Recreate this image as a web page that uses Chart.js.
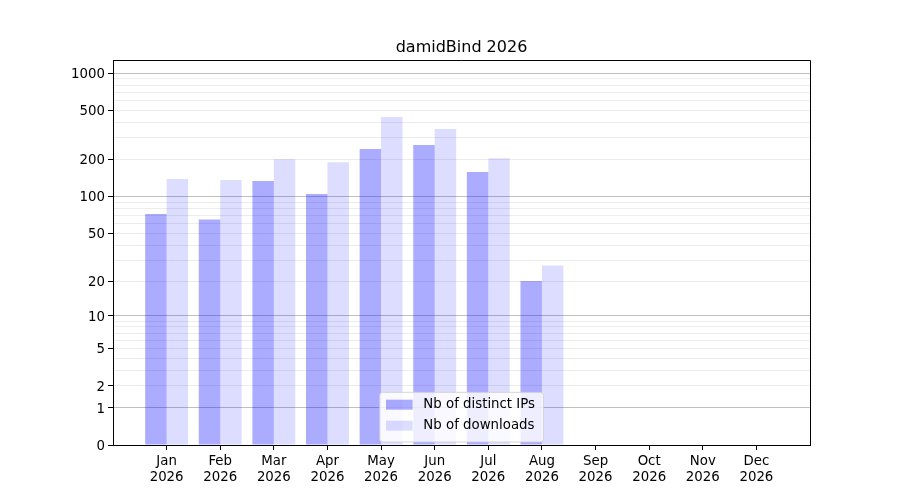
<!DOCTYPE html>
<html>
<head>
<meta charset="utf-8">
<script src="https://cdn.jsdelivr.net/npm/chart.js@4/dist/chart.umd.min.js"></script>
<style>
  body { margin: 0; background: #fff; }
</style>
</head>
<body>
<canvas id="myChart" width="900" height="500"></canvas>
<script>
// chart data
var chartTitle = "damidBind 2026";
var months = ["Jan", "Feb", "Mar", "Apr", "May", "Jun", "Jul", "Aug", "Sep", "Oct", "Nov", "Dec"];
var year = "2026";
var distinctIPs = [72, 65, 134, 105, 243, 262, 158, 20, 0, 0, 0, 0];
var downloads = [139, 136, 201, 190, 441, 353, 205, 27, 0, 0, 0, 0];
var seriesNames = ["Nb of distinct IPs", "Nb of downloads"];

// y axis: labelled ticks, major grid, minor grid
var yTickLabels = [0, 1, 2, 5, 10, 20, 50, 100, 200, 500, 1000];
var yMajorGrid = [1, 10, 100, 1000];
var yMinorGrid = [2, 3, 4, 5, 6, 7, 8, 9, 20, 30, 40, 50, 60, 70, 80, 90,
                  200, 300, 400, 500, 600, 700, 800, 900];
var yMax = 1274;

var FONT = "'DejaVu Sans', sans-serif";

// log10(1 + x) scale, like the matplotlib function scale of the original
class Log1pScale extends Chart.LinearScale {
    buildTicks() {
        var all = [0].concat(yMajorGrid, yMinorGrid).sort(function(a, b) { return a - b; });
        return all.map(function(v) { return { value: v }; });
    }
    getPixelForValue(value) {
        var a = Math.log10(1 + this.min), b = Math.log10(1 + this.max);
        return this.getPixelForDecimal((Math.log10(1 + value) - a) / (b - a));
    }
    getValueForPixel(pixel) {
        var a = Math.log10(1 + this.min), b = Math.log10(1 + this.max);
        var d = this.getDecimalForPixel(pixel);
        return Math.pow(10, a + d * (b - a)) - 1;
    }
}
Log1pScale.id = "log1p";
Log1pScale.defaults = Chart.LinearScale.defaults;
Chart.register(Log1pScale);

// title, frame and legend drawn the matplotlib way
var framePlugin = {
    id: "frame",
    afterDraw: function(chart) {
        var ctx = chart.ctx, area = chart.chartArea;
        ctx.save();

        // title
        ctx.fillStyle = "#000";
        ctx.font = "16px " + FONT;
        ctx.textAlign = "center";
        ctx.textBaseline = "alphabetic";
        ctx.fillText(chartTitle, (area.left + area.right) / 2, area.top - 8);

        // top and right spines
        ctx.strokeStyle = "#000";
        ctx.lineWidth = 1;
        ctx.beginPath();
        ctx.moveTo(area.left, area.top + 0.5);
        ctx.lineTo(area.right + 0.5, area.top + 0.5);
        ctx.lineTo(area.right + 0.5, area.bottom);
        ctx.stroke();

        // legend, lower center
        var fs = 13.33;
        ctx.font = fs + "px " + FONT;
        var textW = 0;
        seriesNames.forEach(function(n) { textW = Math.max(textW, ctx.measureText(n).width); });
        var pad = 0.4 * fs, handle = 2 * fs, gap = 0.8 * fs, rowH = 21;
        var w = pad * 2 + handle + gap + textW + 4;
        var h = pad * 2 + rowH * seriesNames.length - 3;
        var x0 = (area.left + area.right) / 2 - w / 2;
        var y0 = area.bottom - 3 - h;
        ctx.beginPath();
        if (ctx.roundRect) ctx.roundRect(x0, y0, w, h, 3); else ctx.rect(x0, y0, w, h);
        ctx.fillStyle = "rgba(255,255,255,0.8)";
        ctx.fill();
        ctx.strokeStyle = "rgba(204,204,204,0.8)";
        ctx.stroke();

        var colors = chart.data.datasets.map(function(d) { return d.backgroundColor; });
        ctx.textAlign = "left";
        ctx.textBaseline = "middle";
        seriesNames.forEach(function(n, i) {
            var cy = y0 + pad + 7 + i * rowH;
            ctx.fillStyle = colors[i];
            ctx.fillRect(x0 + pad + 1, cy - 5, handle, 10);
            ctx.fillStyle = "#000";
            ctx.fillText(n, x0 + pad + 1 + handle + gap, cy);
        });
        ctx.restore();
    }
};

var ctx = document.getElementById("myChart");
var myChart = new Chart(ctx, {
    type: "bar",
    data: {
        datasets: [{
            label: seriesNames[0],
            data: distinctIPs.map(function(v, i) { return { x: i, y: v }; }),
            backgroundColor: "rgba(0, 0, 255, 0.33)",
            borderWidth: 0
        }, {
            label: seriesNames[1],
            data: downloads.map(function(v, i) { return { x: i, y: v }; }),
            backgroundColor: "rgba(0, 0, 255, 0.135)",
            borderWidth: 0
        }]
    },
    options: {
        responsive: false,
        animation: false,
        devicePixelRatio: 1,
        categoryPercentage: 0.8,
        barPercentage: 1.0,
        layout: { padding: { top: 60, right: 90, left: 0, bottom: 0 } },
        plugins: {
            legend: { display: false },
            title: { display: false },
            tooltip: { enabled: false }
        },
        scales: {
            x: {
                type: "linear",
                min: -1,
                max: 12,
                offset: false,
                afterBuildTicks: function(scale) {
                    scale.ticks = months.map(function(m, i) { return { value: i }; });
                },
                afterFit: function(scale) { scale.height = 55; },
                grid: { offset: false, drawOnChartArea: false, drawTicks: true, tickLength: 5, tickColor: "#000" },
                border: { color: "#000", width: 1 },
                ticks: {
                    autoSkip: false,
                    maxRotation: 0,
                    padding: 3,
                    color: "#000",
                    font: { family: FONT, size: 13.33, lineHeight: 1.25 },
                    callback: function(v) { return [months[v], year]; }
                }
            },
            y: {
                type: "log1p",
                min: 0,
                max: yMax,
                afterFit: function(scale) { scale.width = 113; },
                grid: {
                    tickLength: 5,
                    lineWidth: 1,
                    color: function(c) {
                        var v = c.tick ? c.tick.value : 0;
                        if (v === 0) return "rgba(0,0,0,0)";
                        return yMajorGrid.indexOf(v) >= 0 ? "#c0c0c0" : "#ececec";
                    },
                    tickColor: function(c) {
                        var v = c.tick ? c.tick.value : -1;
                        return yTickLabels.indexOf(v) >= 0 ? "#000" : "rgba(0,0,0,0)";
                    }
                },
                border: { color: "#000", width: 1 },
                ticks: {
                    autoSkip: false,
                    padding: 3,
                    labelOffset: 1.5,
                    color: "#000",
                    font: { family: FONT, size: 13.33 },
                    callback: function(v) { return yTickLabels.indexOf(v) >= 0 ? String(v) : ""; }
                }
            }
        }
    },
    plugins: [framePlugin]
});
</script>
</body>
</html>
